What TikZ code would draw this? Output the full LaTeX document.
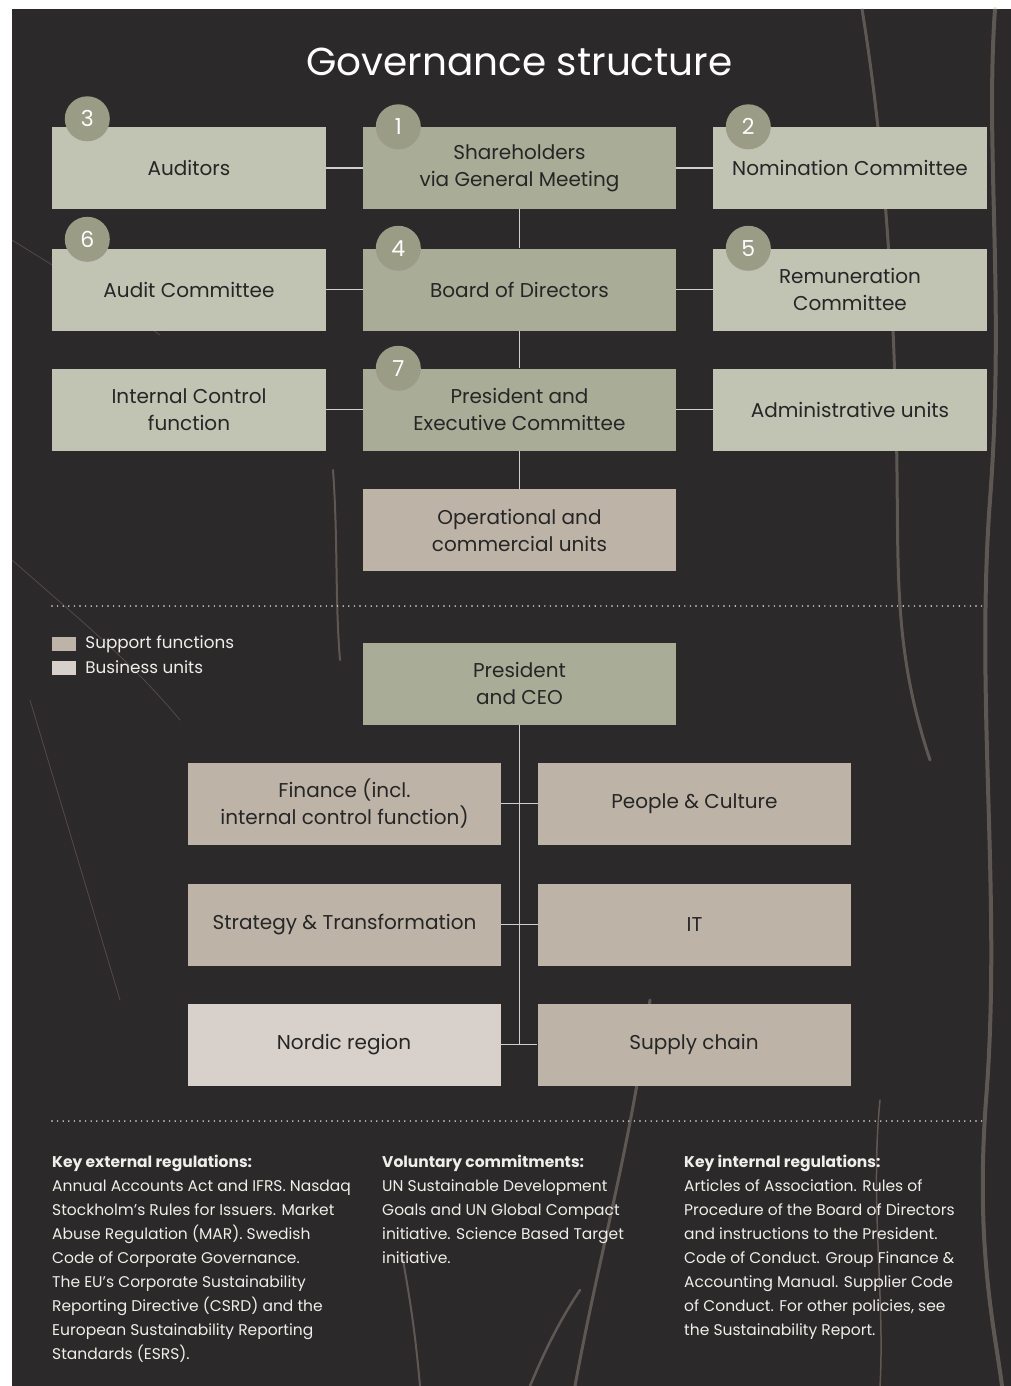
\documentclass[tikz,border=0pt]{standalone}
\usepackage{fontspec}
\setmainfont{Poppins}
\usetikzlibrary{positioning}
\definecolor{marble}{HTML}{2B2929}
\definecolor{veinc}{HTML}{B9B3A9}
\definecolor{sage}{HTML}{C1C3B3}
\definecolor{olive}{HTML}{A9AC97}
\definecolor{badgec}{HTML}{9B9C86}
\definecolor{taupe}{HTML}{BEB3A7}
\definecolor{sand}{HTML}{D8D0CA}
\definecolor{ink}{HTML}{262626}
\definecolor{wire}{HTML}{CFCFCF}
\definecolor{paper}{HTML}{F0EEEA}
\tikzstyle{unit}=[rectangle, inner sep=0pt, minimum height=82pt, align=center,
   text=ink, font=\fontsize{20}{27}\selectfont]
\tikzstyle{side}=[unit, fill=sage, minimum width=274pt]
\tikzstyle{core}=[unit, fill=olive, minimum width=313pt]
\tikzstyle{support}=[unit, fill=taupe, minimum width=313pt]
\tikzstyle{business}=[unit, fill=sand, minimum width=313pt]
\tikzset{link/.style={draw=wire, line width=1.3pt},
         badge/.style={circle, fill=badgec, minimum size=45pt, inner sep=0pt,
           text=white, font=\fontsize{22}{22}\selectfont},
         rule/.style={draw=paper, line width=1.6pt, line cap=round,
           dash pattern=on 0pt off 5.6pt},
         vein/.style={draw=veinc, opacity=0.35, line cap=round},
         swatch/.style={rectangle, inner sep=0pt, minimum width=24pt, minimum height=14pt},
         legend/.style={anchor=west, inner sep=0pt, text=paper, font=\fontsize{16.8}{20}\selectfont},
         notes/.style={anchor=north west, inner sep=0pt, align=left, text=paper,
           font=\fontsize{15.5}{24}\selectfont}}

\begin{document}
\begin{tikzpicture}[x=1pt, y=-1pt]
  \useasboundingbox (0,0) rectangle (1011,1386);
  \fill[white] (0,0) rectangle (1011,1386);
  \fill[marble] (12,9) rectangle (1011,1386);
  % marble veins
  \draw[vein, line width=4pt] (995,9) .. controls (985,150) and (1005,300) .. (990,500)
     .. controls (975,700) and (1002,900) .. (986,1100) .. controls (975,1250) and (995,1330) .. (1002,1386);
  \draw[vein, line width=3pt] (862,9) .. controls (880,120) and (892,250) .. (896,420)
     .. controls (900,560) and (890,640) .. (930,760);
  \draw[vein, line width=3pt] (650,1000) .. controls (630,1150) and (600,1250) .. (575,1386);
  \draw[vein, line width=2.5pt] (580,1290) .. controls (560,1320) and (545,1350) .. (530,1386);
  \draw[vein, line width=2pt] (403,1260) .. controls (410,1300) and (415,1330) .. (420,1386);
  \draw[vein, line width=2pt] (333,470) .. controls (338,540) and (335,600) .. (340,660);
  \draw[vein, line width=0.8pt, opacity=0.25] (12,240) .. controls (60,270) and (110,300) .. (160,335);
  \draw[vein, line width=0.8pt, opacity=0.25] (30,700) .. controls (60,800) and (90,900) .. (120,1000);
  \draw[vein, line width=0.8pt, opacity=0.25] (12,560) .. controls (80,620) and (130,660) .. (180,720);
  \draw[vein, line width=1.5pt] (880,1100) .. controls (870,1200) and (885,1300) .. (880,1386);
  % title
  \node[text=white, font=\fontsize{39}{39}\selectfont] (title) at (519.5,62) {Governance structure};
  % governance boxes
  \node[side] (aud) at (189,168) {Auditors};
  \node[core] (sh)  at (519.5,168) {Shareholders\\via General Meeting};
  \node[side] (nom) at (850,168) {Nomination Committee};
  \node[side] (ac)  at (189,289.5) {Audit Committee};
  \node[core] (bod) at (519.5,289.5) {Board of Directors};
  \node[side] (rem) at (850,289.5) {Remuneration\\Committee};
  \node[side] (icf) at (189,409.5) {Internal Control\\function};
  \node[core] (pec) at (519.5,409.5) {President and\\Executive Committee};
  \node[side] (adm) at (850,409.5) {Administrative units};
  \node[support] (ops) at (519.5,530) {Operational and\\commercial units};
  \draw[link] (aud) -- (sh);  \draw[link] (sh) -- (nom);
  \draw[link] (ac) -- (bod);  \draw[link] (bod) -- (rem);
  \draw[link] (icf) -- (pec); \draw[link] (pec) -- (adm);
  \draw[link] (sh) -- (bod);  \draw[link] (bod) -- (pec); \draw[link] (pec) -- (ops);
  \foreach \n/\b/\dy in {3/aud/8, 1/sh/0, 2/nom/0, 6/ac/9, 4/bod/0, 5/rem/0, 7/pec/0}
    \node[badge] (badge\n) at ([xshift=35.5pt, yshift=\dy pt]\b.north west) {\n};
  % divider
  \coordinate (upl) at (52,606);  \coordinate (upr) at (987,606);
  \draw[rule] (upl) -- (upr);
  % legend
  \node[swatch, fill=taupe] (keys) at (64,644) {};
  \node[legend, right=9pt of keys] (keyst) {Support functions};
  \node[swatch, fill=sand] (keyb) at (64,667.5) {};
  \node[legend, right=9pt of keyb] (keybt) {Business units};
  % organisation
  \node[core] (ceo) at (519.5,683.5) {President\\and CEO};
  \node[support]  (fin) at (344.5,803.5) {Finance (incl.\\internal control function)};
  \node[support]  (pc)  at (694.5,803.5) {People \& Culture};
  \node[support]  (st)  at (344.5,924.5) {Strategy \& Transformation};
  \node[support]  (it)  at (694.5,924.5) {IT};
  \node[business] (nor) at (344,1044.5) {Nordic region};
  \node[support]  (sup) at (694,1044.5) {Supply chain};
  \draw[link] (ceo.south) -- (ceo.south |- nor.east);
  \draw[link] (fin) -- (pc);
  \draw[link] (st) -- (it);
  \draw[link] (nor) -- (sup);
  % divider
  \coordinate (lol) at (52,1121); \coordinate (lor) at (987,1121);
  \draw[rule] (lol) -- (lor);
  % regulations
  \node[notes] (ext) at (52,1155) {\textbf{Key external regulations:}\\
    Annual Accounts Act and IFRS. Nasdaq\\
    Stockholm’s Rules for Issuers. Market\\
    Abuse Regulation (MAR). Swedish\\
    Code of Corporate Governance.\\
    The EU’s Corporate Sustainability\\
    Reporting Directive (CSRD) and the\\
    European Sustainability Reporting\\
    Standards (ESRS).};
  \node[notes] (vol) at (382,1155) {\textbf{Voluntary commitments:}\\
    UN Sustainable Development\\
    Goals and UN Global Compact\\
    initiative. Science Based Target\\
    initiative.};
  \node[notes] (int) at (684,1155) {\textbf{Key internal regulations:}\\
    Articles of Association. Rules of\\
    Procedure of the Board of Directors\\
    and instructions to the President.\\
    Code of Conduct. Group Finance \&\\
    Accounting Manual. Supplier Code\\
    of Conduct. For other policies, see\\
    the Sustainability Report.};
\end{tikzpicture}
\end{document}
